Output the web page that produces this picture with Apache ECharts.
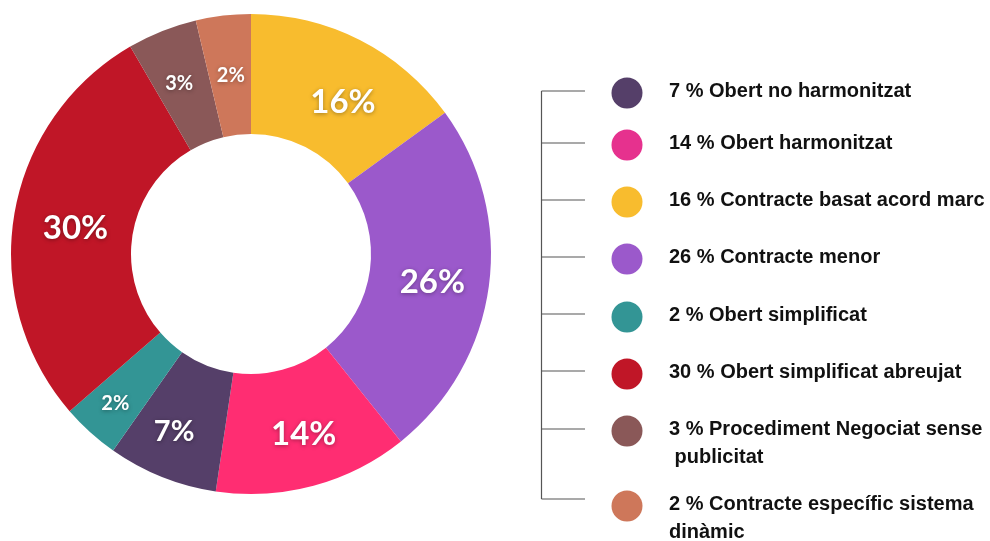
<!DOCTYPE html>
<html>
<head>
<meta charset="utf-8">
<script src="https://cdn.jsdelivr.net/npm/echarts@6/dist/echarts.min.js"></script>
<style>
html,body{margin:0;padding:0;background:#fff;}
#chart{width:990px;height:541px;}
</style>
</head>
<body>
<div id="chart"></div>
<script>
// Categories in legend order
const categories = [
  "Obert no harmonitzat",
  "Obert harmonitzat",
  "Contracte basat acord marc",
  "Contracte menor",
  "Obert simplificat",
  "Obert simplificat abreujat",
  "Procediment Negociat sense\n publicitat",
  "Contracte específic sistema\ndinàmic"
];
// Printed percentages (labels and legend)
const percentLabels = [7, 14, 16, 26, 2, 30, 3, 2];
const sliceShares = [7.4, 13.1, 15.0, 24.3, 3.9, 28.0, 4.7, 3.7];
// Clockwise drawing order from 12 o'clock (indices into categories)
const pieOrder = [2, 3, 1, 0, 4, 5, 6, 7];

const sliceColors = ["#553F69", "#FF2D72", "#F8BC2E", "#9B59CB", "#339595", "#C01627", "#8A5858", "#CE775A"];
const legendColors = ["#553F69", "#E6318E", "#F8BC2E", "#9B59CB", "#339595", "#C01627", "#8A5858", "#CE775A"];

// layout (pixels), legend order
const labelOffsets = [[-9, 8], [5, 4], [9, 11], [0, 4], [-13, 14], [5, 4], [-4, 0], [1, 3]];
const legendCircleY = [93, 145, 202, 259, 317, 374, 431, 506];
const legendTickY = [91, 143, 200, 257, 314, 371, 429, 499];

const chart = echarts.init(document.getElementById('chart'), null, {renderer: 'canvas'});

function labelSize(v) { return v >= 10 ? 33 : (v >= 5 ? 29 : 20); }

const pieData = pieOrder.map(i => ({
  name: categories[i],
  value: sliceShares[i],
  itemStyle: {color: sliceColors[i]},
  label: {
    formatter: percentLabels[i] + '%',
    fontSize: labelSize(percentLabels[i]),
    offset: labelOffsets[i]
  }
}));

const graphics = [];
graphics.push({
  type: 'line', silent: true,
  shape: {x1: 541.5, y1: legendTickY[0], x2: 541.5, y2: legendTickY[legendTickY.length - 1]},
  style: {stroke: '#555', lineWidth: 1.2}
});
categories.forEach((name, i) => {
  graphics.push({
    type: 'line', silent: true,
    shape: {x1: 541.5, y1: legendTickY[i], x2: 585, y2: legendTickY[i]},
    style: {stroke: '#555', lineWidth: 1.2}
  });
  graphics.push({
    type: 'circle', silent: true,
    shape: {cx: 627, cy: legendCircleY[i], r: 15.5},
    style: {fill: legendColors[i]}
  });
  graphics.push({
    type: 'text', silent: true,
    x: 669, y: legendCircleY[i] - 15,
    style: {
      text: percentLabels[i] + ' % ' + name,
      fill: '#111',
      font: 'bold 20px "Liberation Sans", Arial, sans-serif',
      lineHeight: 27.5,
      verticalAlign: 'top',
      align: 'left'
    }
  });
});

chart.setOption({
  animation: false,
  backgroundColor: '#fff',
  graphic: graphics,
  series: [{
    type: 'pie',
    center: [251, 254],
    radius: [120, 240],
    startAngle: 90,
    clockwise: true,
    avoidLabelOverlap: false,
    silent: true,
    label: {
      show: true,
      position: 'inside',
      color: '#fff',
      fontFamily: 'Lato',
      fontWeight: 'bold',
      textShadowColor: 'rgba(0,0,0,0.35)',
      textShadowBlur: 4,
      textShadowOffsetY: 1
    },
    labelLine: {show: false},
    itemStyle: {borderWidth: 0},
    emphasis: {disabled: true},
    data: pieData
  }]
});
</script>
</body>
</html>
